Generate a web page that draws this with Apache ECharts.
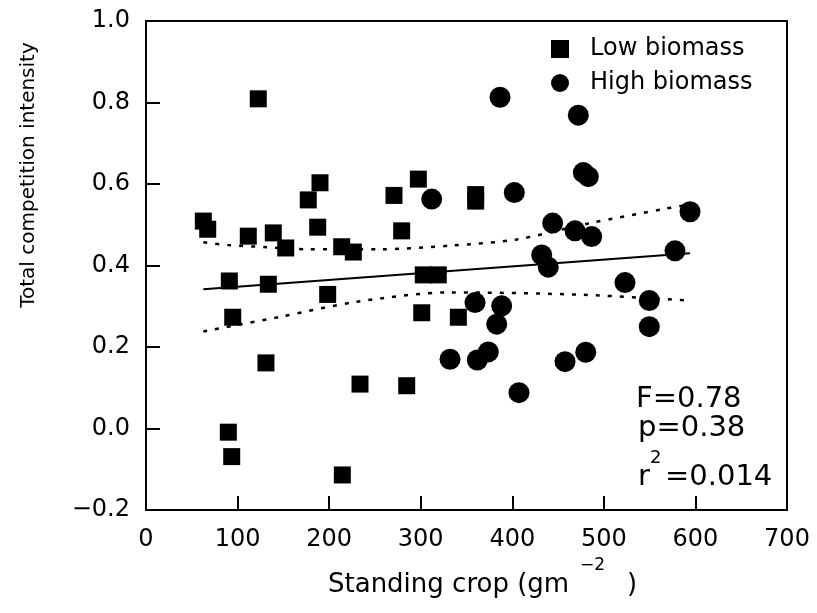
<!DOCTYPE html>
<html>
<head>
<meta charset="utf-8">
<script src="https://cdn.jsdelivr.net/npm/echarts@6/dist/echarts.min.js"></script>
<style>
html,body{margin:0;padding:0;background:#fff;}
#chart{width:817px;height:613px;}
</style>
</head>
<body>
<div id="chart"></div>
<script>
// Low biomass plots: [standing crop, competition intensity]
var lowBiomass = [
  [122.6,0.809],[62.6,0.509],[67.4,0.489],[111.7,0.472],[139.0,0.480],[152.6,0.443],
  [177.2,0.561],[190.0,0.603],[187.5,0.494],[213.7,0.446],[226.4,0.433],[270.8,0.572],
  [297.4,0.612],[279.2,0.485],[360.0,0.574],[360.0,0.558],[91.0,0.362],[133.6,0.354],
  [198.4,0.329],[302.8,0.377],[319.2,0.377],[94.7,0.273],[301.1,0.284],[341.1,0.273],
  [131.0,0.161],[233.7,0.109],[284.7,0.105],[89.9,-0.009],[93.6,-0.069],[214.4,-0.114]
];
// High biomass plots
var highBiomass = [
  [312.0,0.563],[386.6,0.813],[472.1,0.769],[477.6,0.628],[483.0,0.618],[402.2,0.579],
  [594.1,0.532],[444.1,0.504],[468.5,0.485],[486.7,0.471],[577.7,0.436],[432.1,0.426],
  [439.3,0.396],[359.3,0.309],[388.4,0.301],[383.0,0.256],[332.0,0.170],[361.8,0.168],
  [373.8,0.188],[457.6,0.164],[480.2,0.187],[407.3,0.088],[523.1,0.358],[549.6,0.314],
  [549.6,0.250]
];
// Regression line and 95% confidence bands
var fitLine = [[62.6,0.342],[594.1,0.430]];
var upperBand = [[62.6,0.457],[89.9,0.450],[131.8,0.445],[175.5,0.440],[255.5,0.440],
  [333.8,0.449],[404.8,0.464],[484.9,0.504],[568.6,0.540],[590.5,0.548]];
var lowerBand = [[62.6,0.238],[146.3,0.274],[230.1,0.311],[332.0,0.334],[477.6,0.328],[592.2,0.314]];
var xTicks = [0,100,200,300,400,500,600,700];
var yTicks = [-0.2,0.0,0.2,0.4,0.6,0.8,1.0];
var statsLines = ['F=0.78','p=0.38','r','=0.014'];

var FONT = 'DejaVu Sans';
var chart = echarts.init(document.getElementById('chart'), null, {renderer:'canvas'});
var option = {
  backgroundColor:'#fff',
  animation:false,
  grid:{left:146,right:30,top:21,bottom:103,show:true,borderColor:'#000',borderWidth:2,backgroundColor:'transparent'},
  xAxis:{
    type:'value', min:xTicks[0], max:xTicks[xTicks.length-1], interval:100,
    axisLine:{show:true,onZero:false,lineStyle:{color:'#000',width:2}},
    axisTick:{show:true,inside:true,length:14,lineStyle:{color:'#000',width:2}},
    splitLine:{show:false},
    axisLabel:{color:'#000',fontFamily:FONT,fontSize:24,margin:18}
  },
  yAxis:{
    type:'value', min:yTicks[0], max:yTicks[yTicks.length-1], interval:0.2,
    axisLine:{show:true,onZero:false,lineStyle:{color:'#000',width:2}},
    axisTick:{show:true,inside:true,length:14,lineStyle:{color:'#000',width:2}},
    splitLine:{show:false},
    axisLabel:{color:'#000',fontFamily:FONT,fontSize:24,margin:16,
      formatter:function(v){var s=v.toFixed(1); return s.replace('-','\u2212');}}
  },
  legend:{
    orient:'vertical', left:546, top:32, itemWidth:18, itemHeight:18, itemGap:10,
    textStyle:{color:'#000',fontFamily:FONT,fontSize:24,padding:[0,0,0,16]},
    data:[{name:'Low biomass',icon:'rect'},{name:'High biomass',icon:'circle'}]
  },
  series:[
    {name:'Upper band',type:'line',data:upperBand,smooth:0.3,symbol:'none',
      lineStyle:{color:'#000',width:2.5,type:[4,8]},z:1},
    {name:'Lower band',type:'line',data:lowerBand,smooth:0.3,symbol:'none',
      lineStyle:{color:'#000',width:2.5,type:[4,8]},z:1},
    {name:'Fit',type:'line',data:fitLine,symbol:'none',
      lineStyle:{color:'#000',width:2},z:1},
    {name:'Low biomass',type:'scatter',data:lowBiomass,symbol:'rect',symbolSize:17,
      itemStyle:{color:'#000',opacity:1},z:3},
    {name:'High biomass',type:'scatter',data:highBiomass,symbol:'circle',symbolSize:21,
      itemStyle:{color:'#000',opacity:1},z:3}
  ],
  graphic:[
    {type:'text',x:29,y:175,rotation:Math.PI/2,
      style:{text:'Total competition intensity',fontFamily:FONT,fontSize:20,fill:'#000',align:'center',verticalAlign:'middle'}},
    {type:'text',x:328,y:585,
      style:{text:'Standing crop (gm',fontFamily:FONT,fontSize:26,fill:'#000',align:'left',verticalAlign:'middle'}},
    {type:'text',x:580,y:566,
      style:{text:'\u22122',fontFamily:FONT,fontSize:17,fill:'#000',align:'left',verticalAlign:'middle'}},
    {type:'text',x:627,y:585,
      style:{text:')',fontFamily:FONT,fontSize:26,fill:'#000',align:'left',verticalAlign:'middle'}},
    {type:'text',x:636,y:399,
      style:{text:statsLines[0],fontFamily:FONT,fontSize:29,fill:'#000',align:'left',verticalAlign:'middle'}},
    {type:'text',x:638,y:428,
      style:{text:statsLines[1],fontFamily:FONT,fontSize:29,fill:'#000',align:'left',verticalAlign:'middle'}},
    {type:'text',x:638,y:477,
      style:{text:statsLines[2],fontFamily:FONT,fontSize:29,fill:'#000',align:'left',verticalAlign:'middle'}},
    {type:'text',x:650,y:458,
      style:{text:'2',fontFamily:FONT,fontSize:18,fill:'#000',align:'left',verticalAlign:'middle'}},
    {type:'text',x:665,y:477,
      style:{text:statsLines[3],fontFamily:FONT,fontSize:29,fill:'#000',align:'left',verticalAlign:'middle'}}
  ]
};
chart.setOption(option);
</script>
</body>
</html>
